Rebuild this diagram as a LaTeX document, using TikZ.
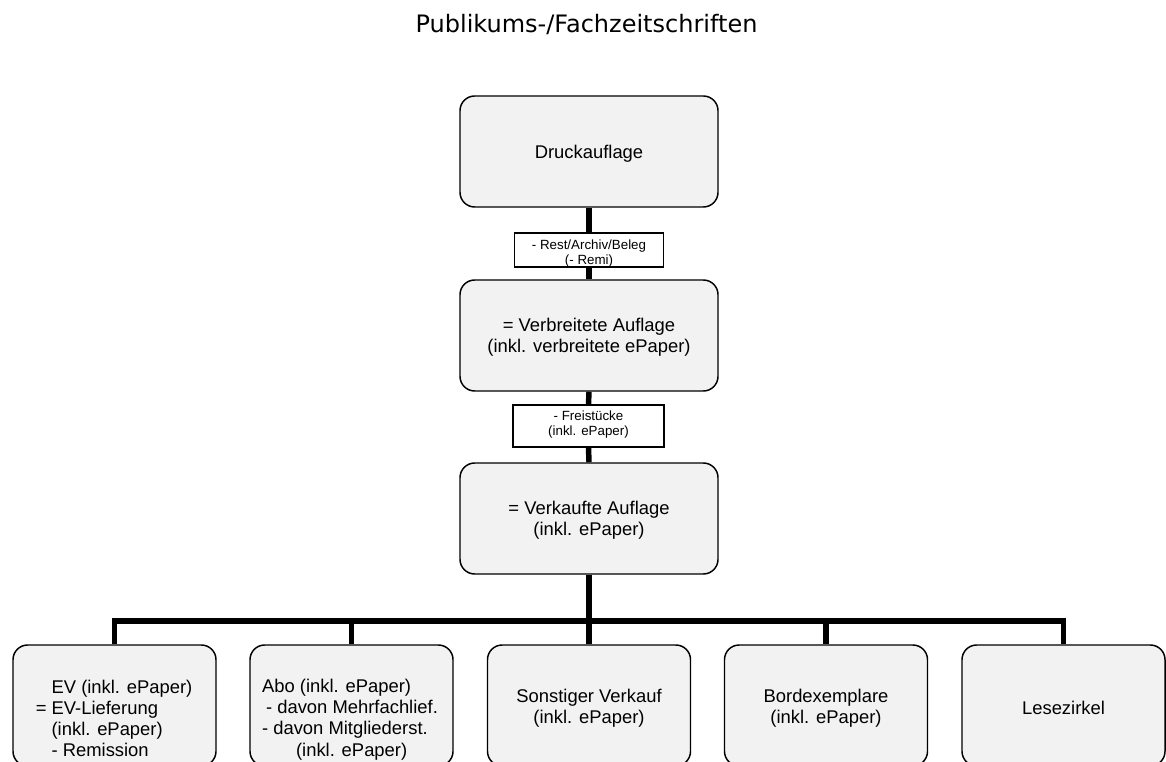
\documentclass[tikz,border=0pt]{standalone}
\usepackage{fontspec}
\setmainfont{Liberation Sans}
\newfontfamily\titlefont{DejaVu Sans}
\definecolor{boxgray}{HTML}{F2F2F2}
\newcommand{\tstrut}{\rule{0pt}{13pt}}
\begin{document}
\begin{tikzpicture}[x=0.75pt,y=-0.75pt,
  box/.style={draw=black, line width=1.1pt, fill=boxgray, rounded corners=11pt, inner sep=0pt,
    minimum width=193.5pt, minimum height=83.25pt, align=center, font=\fontsize{13.8}{15.9}\selectfont},
  bbox/.style={draw=black, line width=1.1pt, fill=boxgray, rounded corners=11pt, inner sep=0pt,
    minimum width=152.25pt, minimum height=90.75pt},
  lbl/.style={draw=black, line width=1.1pt, fill=white, inner sep=0pt},
  smalltxt/.style={inner sep=0pt, align=center, font=\fontsize{10}{11.25}\selectfont},
  btxt/.style={inner sep=0pt, font=\fontsize{13.8}{15.9}\selectfont},
  conn/.style={line width=4.1pt, line join=miter}]
\useasboundingbox (0,0) rectangle (1166,762);
\clip (0,0) rectangle (1166,762);

\node[anchor=base, inner sep=0pt, font=\titlefont\fontsize{18}{20}\selectfont] (title) at (586.5,32.5) {Publikums-/Fachzeitschriften};

% main column
\node[box] (druck) at (589,151.5) {\tstrut Druckauflage};
\node[lbl, minimum width=111.75pt, minimum height=25.5pt] (lab1) at (589,250) {};
\node[smalltxt] (lab1t) at (589,254) {- Rest/Archiv/Beleg\\(- Remi)};
\node[box] (verb) at (589,335.5) {\tstrut = Verbreitete Auflage\\(inkl. verbreitete ePaper)};
\node[lbl, minimum width=113.25pt, minimum height=31.5pt] (lab2) at (588.5,426) {};
\node[smalltxt] (lab2t) at (588.5,425) {- Freistücke\\(inkl. ePaper)};
\node[box] (verk) at (589,518.5) {\tstrut = Verkaufte Auflage\\(inkl. ePaper)};

% bottom row
\node[bbox] (ev) at (114.5,705.5) {};
\node[bbox] (abo) at (351.5,705.5) {};
\node[bbox] (sonst) at (589,705.5) {};
\node[bbox] (bord) at (826,705.5) {};
\node[bbox] (lz) at (1063.5,705.5) {};

\node[btxt, align=left] (evt) at (122,718.5) {EV (inkl. ePaper)\\\llap{= }EV-Lieferung\\(inkl. ePaper)\\- Remission};
\node[btxt, align=left] (abot) at (350,719.5) {Abo (inkl. ePaper)\\\hspace*{3pt}- davon Mehrfachlief.\\- davon Mitgliederst.\\\hspace*{25.5pt}(inkl. ePaper)};
\node[btxt, align=center] (sonstt) at (589,708.5) {Sonstiger Verkauf\\(inkl. ePaper)};
\node[btxt, align=center] (bordt) at (826,708.5) {Bordexemplare\\(inkl. ePaper)};
\node[btxt, align=center] (lzt) at (1063.5,708) {Lesezirkel};

% connectors
\coordinate (bar) at (589,621);
\draw[conn] (druck.south) -- (lab1.north);
\draw[conn] (lab1.south) -- (verb.north);
\draw[conn] (verb.south) -- (lab2.north);
\draw[conn] (lab2.south) -- (verk.north);
\draw[conn] (verk.south) -- (bar);
\draw[conn] (ev.north) |- (bar) -| (lz.north);
\draw[conn] (abo.north) -- (abo.north |- bar);
\draw[conn] (sonst.north) -- (bar);
\draw[conn] (bord.north) -- (bord.north |- bar);
\end{tikzpicture}
\end{document}
